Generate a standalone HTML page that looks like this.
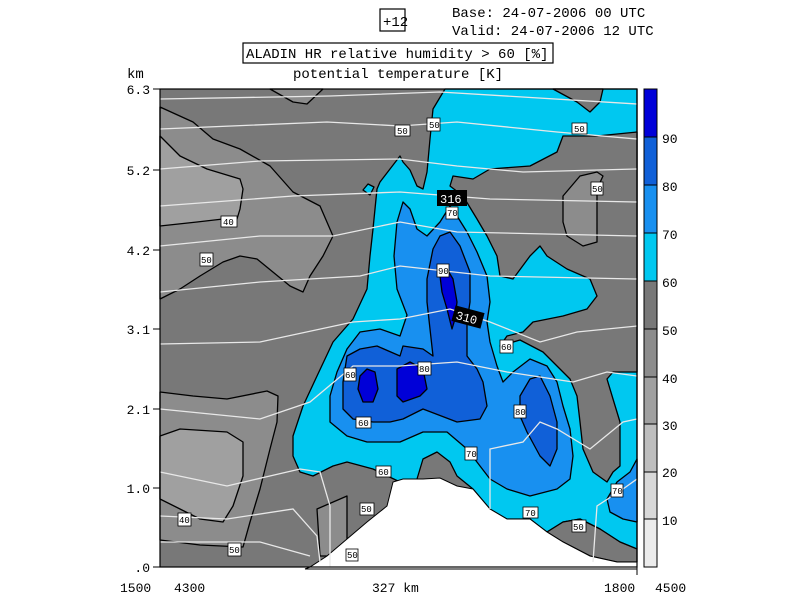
<!DOCTYPE html>
<html><head><meta charset="utf-8"><style>
body{margin:0;background:#fff;width:800px;height:600px;overflow:hidden}
svg{display:block}
text{font-family:"Liberation Mono",monospace;fill:#000}
</style></head><body>
<svg width="800" height="600" viewBox="0 0 800 600">
<rect width="800" height="600" fill="#fff"/>
<!-- header -->
<rect x="380" y="9" width="25" height="22" fill="none" stroke="#000" stroke-width="1.2"/>
<text x="383" y="26" font-size="14">+12</text>
<text x="452" y="17" font-size="14">Base: 24-07-2006  00 UTC</text>
<text x="452" y="35" font-size="14">Valid: 24-07-2006  12 UTC</text>
<rect x="243" y="43" width="310" height="20" fill="none" stroke="#000" stroke-width="1.2"/>
<text x="246" y="58" font-size="14">ALADIN HR relative humidity &gt; 60 [%]</text>
<text x="293" y="78" font-size="14">potential temperature [K]</text>
<text x="127" y="78" font-size="14">km</text>

<g stroke="#000" stroke-width="1.3" stroke-linejoin="round">
<rect x="160" y="89" width="477" height="478" fill="#787878" stroke="none"/>
<!-- light gray regions -->
<polygon fill="#8c8c8c" points="160,107 193,122 213,139 240,149 270,166 293,192 320,206 333,236 323,256 310,276 303,292 290,286 257,259 240,256 223,262 200,276 180,289 160,299"/>
<polygon fill="#8c8c8c" points="270,89 293,102 307,104 323,89"/>
<polygon fill="#a0a0a0" points="160,136 180,156 207,169 240,179 243,189 240,209 237,219 223,219 197,222 160,226"/>
<polygon fill="#8c8c8c" points="160,392 193,396 227,399 267,391 278,396 277,422 270,449 260,489 250,522 243,547 200,545 160,540"/>
<polygon fill="#a0a0a0" points="160,436 180,429 227,432 243,442 243,476 233,506 223,522 200,519 180,509 160,499"/>
<polygon fill="#8c8c8c" points="317,509 347,496 347,549 333,556 320,556"/>
<!-- cyan main -->
<polygon fill="#00c8f0" points="445,89 637,89 637,549 620,542 600,529 580,519 563,522 547,532 530,519 507,519 490,509 473,489 457,476 450,462 437,452 423,459 417,479 400,482 373,469 347,462 333,466 313,476 300,472 293,456 293,436 303,406 317,376 333,342 353,319 367,289 370,256 373,229 377,189 380,182 390,169 400,156 403,162 410,170 417,186 423,189 427,172 430,139 433,109"/>
<polygon fill="#00c8f0" points="363,190 368,184 374,187 370,195"/>
<!-- dark overlays -->
<polygon fill="#787878" points="553,89 577,102 590,112 600,102 603,89"/>
<polygon fill="#787878" points="637,132 597,136 563,136 557,152 530,166 490,169 473,179 453,176 450,186 463,196 477,219 487,236 497,256 500,276 513,279 530,256 540,246 547,256 567,269 590,279 597,296 587,309 563,316 533,322 523,332 507,336 500,346 520,340 543,352 557,366 570,379 577,396 580,422 583,449 593,472 607,482 613,472 620,466 620,422 613,399 607,379 613,372 637,372"/>
<polygon fill="#8c8c8c" points="563,196 580,176 597,172 603,176 597,189 597,242 583,246 567,236 563,222"/>
<polygon fill="#787878" points="547,532 563,522 580,519 600,529 620,542 637,549 637,562 617,562 590,556 563,542"/>
<!-- 70-80 -->
<polygon fill="#1890f0" points="400,336 380,329 360,332 347,349 337,372 330,396 330,422 347,436 367,442 400,442 423,432 447,432 467,449 480,466 490,479 507,489 530,496 557,489 570,479 573,456 570,429 563,406 557,382 547,366 530,359 513,372 503,382 497,366 490,342 487,322 490,302 487,276 477,252 467,232 457,216 450,206 440,222 427,236 417,229 410,209 403,202 397,222 394,256 397,289 407,315"/>
<polygon fill="#1890f0" points="607,499 617,482 630,472 637,459 637,522 623,519 610,512"/>
<!-- 80-90 -->
<polygon fill="#1060d8" points="347,356 360,349 377,346 400,356 403,346 423,349 433,356 430,329 427,302 427,279 433,249 440,236 450,232 460,246 470,272 470,302 467,322 467,356 477,369 483,382 487,406 480,419 457,422 423,409 403,419 390,422 373,422 353,419 343,409 343,382"/>
<polygon fill="#1060d8" points="520,396 530,379 540,376 550,396 557,422 557,449 550,466 540,456 527,432 520,416"/>
<!-- 90+ -->
<polygon fill="#0000d8" points="360,376 367,369 375,372 378,389 373,402 363,402 358,389"/>
<polygon fill="#0000d8" points="397,369 410,362 423,369 427,389 420,396 403,402 397,396"/>
<polygon fill="#0000d8" points="440,276 447,269 453,279 457,302 455,319 452,329 447,309 442,292"/>
</g>
<!-- terrain -->
<polygon fill="#fff" stroke="#000" stroke-width="1" points="305,569 310,567 327,556 347,539 367,522 387,506 393,482 403,479 423,479 440,478 457,486 473,489 490,509 507,519 530,519 547,532 563,542 590,556 617,562 637,562 637,569"/>
<!-- isentropes -->
<g fill="none" stroke="#e8e8e8" stroke-width="1.3">
<polyline points="160,129 327,122 400,126 457,122 557,132 637,139"/>
<polyline points="160,169 260,161 400,159 457,166 523,172 637,169"/>
<polyline points="160,206 293,196 400,192 490,199 637,202"/>
<polyline points="160,246 260,236 333,236 400,222 457,232 637,236"/>
<polyline points="160,292 260,282 360,276 400,266 490,276 637,279"/>
<polyline points="160,344 260,342 353,322 400,319 450,309 490,322 540,342 577,332 637,326"/>
<polyline points="160,409 260,419 310,402 353,366 400,366 457,362 507,372 573,382 607,372 637,376"/>
<polyline points="160,472 227,486 300,469 320,472 330,506 330,567"/>
<polyline points="490,509 490,449 523,442 540,422 557,429 590,449 623,422 637,419"/>
<polyline points="160,516 227,519 293,509 317,536 320,562"/>
<polyline points="160,542 260,542 310,556"/>
<polyline points="593,562 597,506 623,489 637,479"/>
<polyline points="160,99 330,96 440,92 637,104"/>
</g>
<!-- labels -->
<g font-size="9">
<g fill="#fff" stroke="#000" stroke-width="0.8">
<rect x="395" y="125" width="15" height="11"/><rect x="427" y="118" width="13" height="13"/>
<rect x="572" y="123" width="15" height="11"/><rect x="591" y="182" width="12" height="13"/>
<rect x="221" y="216" width="16" height="11"/><rect x="200" y="253" width="13" height="13"/>
<rect x="344" y="368" width="12" height="13"/><rect x="418" y="362" width="13" height="13"/>
<rect x="356" y="417" width="15" height="11"/><rect x="376" y="466" width="15" height="11"/>
<rect x="437" y="264" width="12" height="13"/><rect x="514" y="405" width="12" height="13"/>
<rect x="500" y="340" width="13" height="13"/><rect x="465" y="447" width="12" height="13"/>
<rect x="523" y="507" width="15" height="11"/><rect x="572" y="520" width="14" height="12"/>
<rect x="611" y="484" width="12" height="13"/><rect x="178" y="513" width="13" height="13"/>
<rect x="228" y="543" width="13" height="13"/><rect x="360" y="503" width="14" height="12"/>
<rect x="446" y="207" width="12" height="12"/><rect x="346" y="549" width="12" height="12"/>
</g>
<g>
<text x="397" y="134">50</text><text x="429" y="128">50</text><text x="574" y="132">50</text><text x="592" y="192">50</text>
<text x="223" y="225">40</text><text x="201" y="263">50</text><text x="345" y="378">60</text><text x="419" y="372">80</text>
<text x="358" y="426">60</text><text x="378" y="475">60</text><text x="438" y="274">90</text><text x="515" y="415">80</text>
<text x="501" y="350">60</text><text x="466" y="457">70</text><text x="525" y="516">70</text><text x="573" y="530">50</text>
<text x="612" y="494">70</text><text x="179" y="523">40</text><text x="229" y="553">50</text><text x="361" y="512">50</text>
<text x="447" y="216">70</text><text x="347" y="558">50</text>
</g>
</g>
<rect x="437" y="190" width="30" height="16" fill="#000"/><text x="440" y="203" font-size="12" style="fill:#fff">316</text>
<rect x="453" y="309" width="30" height="16" fill="#000" transform="rotate(15 468 317)"/><text x="456" y="322" font-size="12" style="fill:#fff" transform="rotate(15 468 317)">310</text>
<!-- frame & axes -->
<rect x="160" y="89" width="477" height="478" fill="none" stroke="#000" stroke-width="1.2"/>
<line x1="637" y1="567" x2="637" y2="575" stroke="#000"/>
<g stroke="#000" stroke-width="1">
<line x1="153" y1="89" x2="160" y2="89"/><line x1="153" y1="170" x2="160" y2="170"/><line x1="153" y1="250" x2="160" y2="250"/>
<line x1="153" y1="329" x2="160" y2="329"/><line x1="153" y1="409" x2="160" y2="409"/><line x1="153" y1="488" x2="160" y2="488"/><line x1="153" y1="567" x2="160" y2="567"/>
</g>
<g font-size="13" text-anchor="end">
<text x="150" y="94">6.3</text><text x="150" y="175">5.2</text><text x="150" y="255">4.2</text><text x="150" y="334">3.1</text>
<text x="150" y="414">2.1</text><text x="150" y="493">1.0</text><text x="150" y="572">.0</text>
</g>
<g font-size="13">
<text x="120" y="592">1500</text><text x="174" y="592">4300</text><text x="372" y="592">327 km</text>
<text x="604" y="592">1800</text><text x="655" y="592">4500</text>
</g>
<!-- colorbar -->
<g stroke="#000" stroke-width="1">
<rect x="644" y="89" width="13" height="48" fill="#0000d8"/>
<rect x="644" y="137" width="13" height="48" fill="#1060d8"/>
<rect x="644" y="185" width="13" height="48" fill="#1890f0"/>
<rect x="644" y="233" width="13" height="48" fill="#00c8f0"/>
<rect x="644" y="281" width="13" height="48" fill="#787878"/>
<rect x="644" y="329" width="13" height="48" fill="#8c8c8c"/>
<rect x="644" y="377" width="13" height="47" fill="#a0a0a0"/>
<rect x="644" y="424" width="13" height="48" fill="#bebebe"/>
<rect x="644" y="472" width="13" height="47" fill="#d8d8d8"/>
<rect x="644" y="519" width="13" height="48" fill="#ececec"/>
</g>
<g font-size="13">
<text x="662" y="143">90</text><text x="662" y="191">80</text><text x="662" y="239">70</text><text x="662" y="287">60</text>
<text x="662" y="335">50</text><text x="662" y="383">40</text><text x="662" y="430">30</text><text x="662" y="477">20</text><text x="662" y="525">10</text>
</g>
</svg>
</body></html>
